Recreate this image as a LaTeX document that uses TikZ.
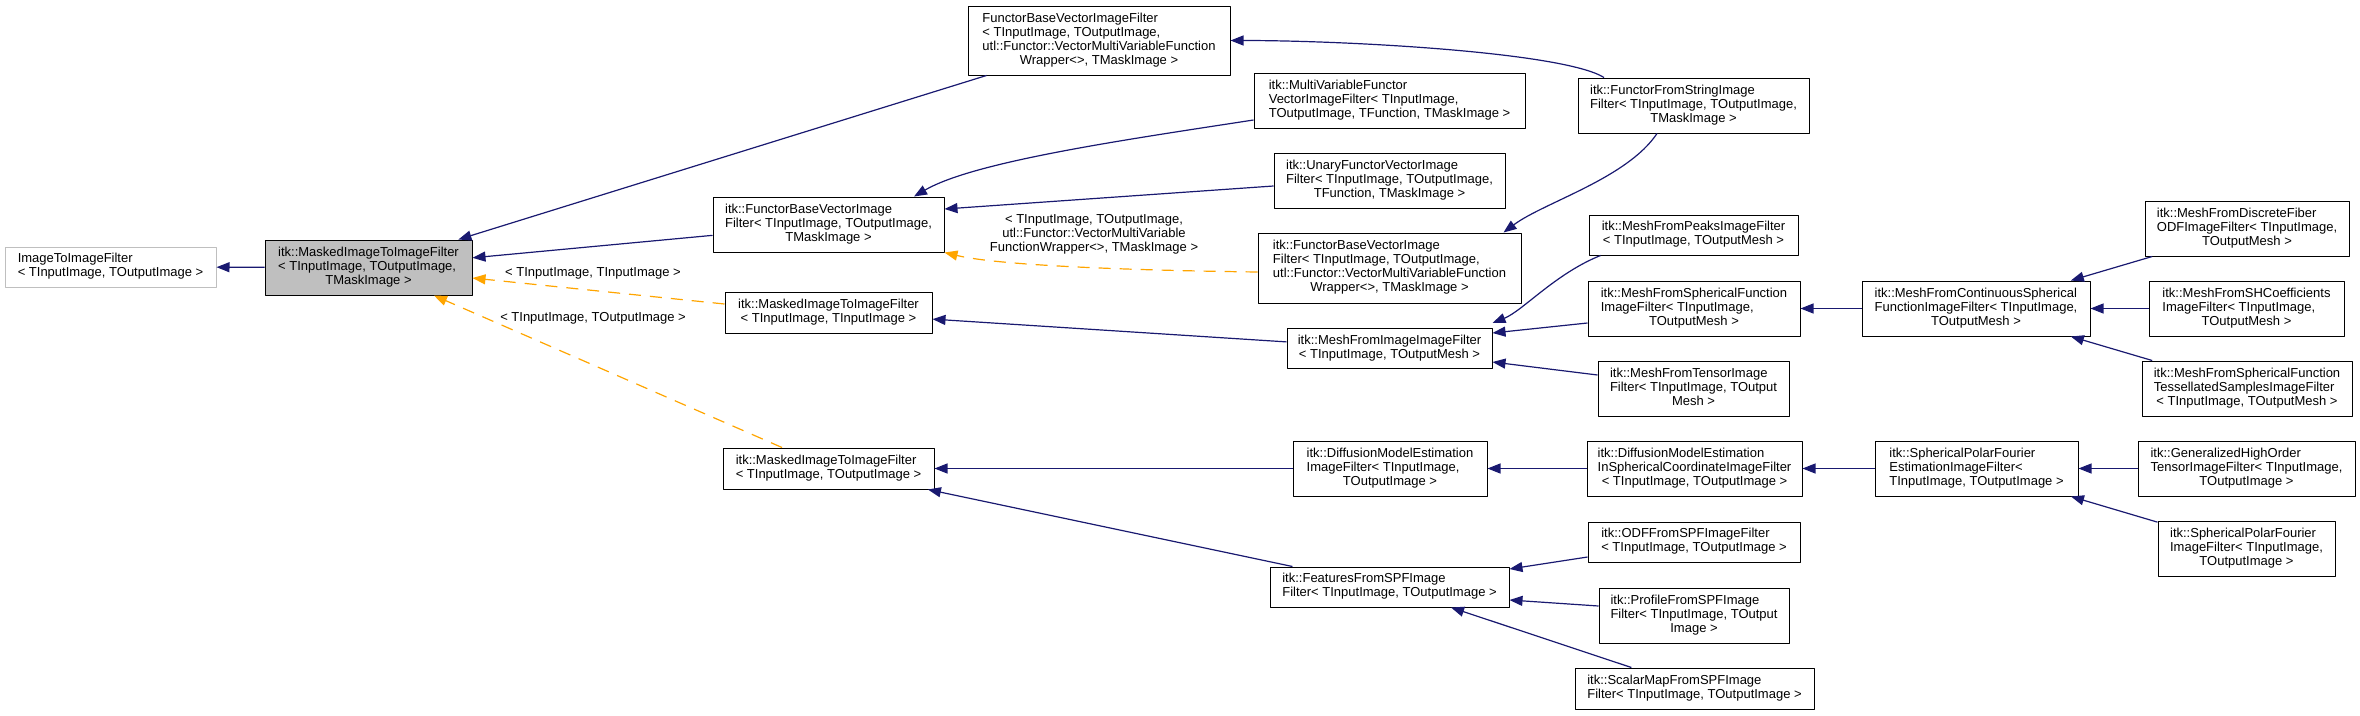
\documentclass[tikz,border=0pt]{standalone}
\usepackage{fontspec}
\setmainfont{Liberation Sans}
\usetikzlibrary{arrows.meta,calc}
\definecolor{edgeblue}{HTML}{191970}
\definecolor{tplorange}{HTML}{FFA500}
\definecolor{boxgray}{HTML}{BFBFBF}
% class label: left lines, last line centred
\newcommand{\cname}[2]{\begin{tabular}{@{}l@{}}#1\\\multicolumn{1}{@{}c@{}}{#2}\end{tabular}}
\begin{document}
\begin{tikzpicture}[x=1pt,y=-1pt,line join=round,font=\fontsize{13}{14}\selectfont,
  cls/.style={draw=black,line width=1pt,fill=white,inner sep=0pt},
  inh/.style={draw=edgeblue,line width=1.2pt,-{Triangle[length=13pt,width=10pt]}},
  tpl/.style={draw=tplorange,line width=1.2pt,dash pattern=on 12pt off 9pt,-{Triangle[length=13pt,width=10pt]}},
  elbl/.style={inner sep=0pt,align=center}]
\useasboundingbox (0,0) rectangle (2360,715);

% Left part
\node[cls,draw=boxgray,minimum width=211,minimum height=40] (img) at (110.5,267) {\cname{ImageToImageFilter}{< TInputImage, TOutputImage >}};
\node[cls,fill=boxgray,minimum width=207,minimum height=55] (mask) at (368.5,267.5) {\cname{itk::MaskedImageToImageFilter\\< TInputImage, TOutputImage,}{TMaskImage >}};

% Functor column
\node[cls,minimum width=262,minimum height=69] (fbvTop) at (1099,40.5) {\cname{FunctorBaseVectorImageFilter\\< TInputImage, TOutputImage,\\utl::Functor::VectorMultiVariableFunction}{Wrapper<>, TMaskImage >}};
\node[cls,minimum width=231,minimum height=55] (fbv) at (828.5,224.5) {\cname{itk::FunctorBaseVectorImage\\Filter< TInputImage, TOutputImage,}{TMaskImage >}};
\node[cls,minimum width=207,minimum height=41] (maskIn) at (828.5,312.5) {\cname{itk::MaskedImageToImageFilter}{< TInputImage, TInputImage >}};
\node[cls,minimum width=211,minimum height=41] (maskOut) at (828.5,468.5) {\cname{itk::MaskedImageToImageFilter}{< TInputImage, TOutputImage >}};

% Middle column
\node[cls,minimum width=271,minimum height=55] (mvf) at (1389.5,100.5) {\cname{itk::MultiVariableFunctor\\VectorImageFilter< TInputImage,}{TOutputImage, TFunction, TMaskImage >}};
\node[cls,minimum width=231,minimum height=55] (unary) at (1389.5,180.5) {\cname{itk::UnaryFunctorVectorImage\\Filter< TInputImage, TOutputImage,}{TFunction, TMaskImage >}};
\node[cls,minimum width=263,minimum height=70] (fbvLong) at (1389.5,268) {\cname{itk::FunctorBaseVectorImage\\Filter< TInputImage, TOutputImage,\\utl::Functor::VectorMultiVariableFunction}{Wrapper<>, TMaskImage >}};
\node[cls,minimum width=205,minimum height=40] (meshImg) at (1389.5,348.5) {\cname{itk::MeshFromImageImageFilter}{< TInputImage, TOutputMesh >}};
\node[cls,minimum width=194,minimum height=55] (diff) at (1390,468.5) {\cname{itk::DiffusionModelEstimation\\ImageFilter< TInputImage,}{TOutputImage >}};
\node[cls,minimum width=239,minimum height=40] (feat) at (1389.5,587) {\cname{itk::FeaturesFromSPFImage}{Filter< TInputImage, TOutputImage >}};

% Next column
\node[cls,minimum width=231,minimum height=55] (fromString) at (1693.5,105.5) {\cname{itk::FunctorFromStringImage\\Filter< TInputImage, TOutputImage,}{TMaskImage >}};
\node[cls,minimum width=209,minimum height=40] (peaks) at (1693.5,235) {\cname{itk::MeshFromPeaksImageFilter}{< TInputImage, TOutputMesh >}};
\node[cls,minimum width=212,minimum height=55] (sphFn) at (1694,308.5) {\cname{itk::MeshFromSphericalFunction\\ImageFilter< TInputImage,}{TOutputMesh >}};
\node[cls,minimum width=191,minimum height=55] (tensor) at (1693.5,388.5) {\cname{itk::MeshFromTensorImage\\Filter< TInputImage, TOutput}{Mesh >}};
\node[cls,minimum width=215,minimum height=55] (diffSph) at (1694.5,468.5) {\cname{itk::DiffusionModelEstimation\\InSphericalCoordinateImageFilter}{< TInputImage, TOutputImage >}};
\node[cls,minimum width=212,minimum height=40] (odf) at (1694,542) {\cname{itk::ODFFromSPFImageFilter}{< TInputImage, TOutputImage >}};
\node[cls,minimum width=190,minimum height=55] (profile) at (1694,615.5) {\cname{itk::ProfileFromSPFImage\\Filter< TInputImage, TOutput}{Image >}};
\node[cls,minimum width=239,minimum height=41] (scalar) at (1694.5,688.5) {\cname{itk::ScalarMapFromSPFImage}{Filter< TInputImage, TOutputImage >}};

% Right columns
\node[cls,minimum width=228,minimum height=55] (contSph) at (1976,308.5) {\cname{itk::MeshFromContinuousSpherical\\FunctionImageFilter< TInputImage,}{TOutputMesh >}};
\node[cls,minimum width=203,minimum height=55] (spfEst) at (1976.5,468.5) {\cname{itk::SphericalPolarFourier\\EstimationImageFilter<}{TInputImage, TOutputImage >}};
\node[cls,minimum width=204,minimum height=55] (discFib) at (2247,228.5) {\cname{itk::MeshFromDiscreteFiber\\ODFImageFilter< TInputImage,}{TOutputMesh >}};
\node[cls,minimum width=195,minimum height=55] (shCoef) at (2246.5,308.5) {\cname{itk::MeshFromSHCoefficients\\ImageFilter< TInputImage,}{TOutputMesh >}};
\node[cls,minimum width=210,minimum height=55] (tess) at (2247,388.5) {\cname{itk::MeshFromSphericalFunction\\TessellatedSamplesImageFilter}{< TInputImage, TOutputMesh >}};
\node[cls,minimum width=217,minimum height=55] (genHO) at (2246.5,468.5) {\cname{itk::GeneralizedHighOrder\\TensorImageFilter< TInputImage,}{TOutputImage >}};
\node[cls,minimum width=177,minimum height=55] (spfImg) at (2246.5,548.5) {\cname{itk::SphericalPolarFourier\\ImageFilter< TInputImage,}{TOutputImage >}};

% Template labels
\node[elbl] (lblInIn) at (593,273) {< TInputImage, TInputImage >};
\node[elbl] (lblInOut) at (593,318) {< TInputImage, TOutputImage >};
\node[elbl] (lblFunctor) at (1094,234) {< TInputImage, TOutputImage,\\utl::Functor::VectorMultiVariable\\FunctionWrapper<>, TMaskImage >};

% Inheritance
\draw[inh] (mask) -- (img);
\draw[inh] (fbvTop) -- (mask);
\draw[inh] (fbv) -- (mask);
\draw[inh] ($(mvf.west)+(0,19.5)$) .. controls +(-130,20) and +(60,-35) .. ($(fbv.north)+(85.5,0)$);
\draw[inh] ($(unary.west)+(0,5.5)$) -- ($(fbv.east)+(0,-15.5)$);
\draw[inh] ($(fromString.north)+(-89.5,0)$) .. controls +(-40,-25) and +(120,0) .. (fbvTop.east);
\draw[inh] ($(fromString.south)+(-36.5,0)$) .. controls +(-30,45) and +(40,-30) .. ($(fbvLong.north east)+(-18,0)$);
\draw[inh] (meshImg) -- (maskIn);
\draw[inh] ($(peaks.south west)+(12,0)$) .. controls +(-45,18) and +(30,-12) .. ($(meshImg.east)+(0,-25.5)$);
\draw[inh] ($(sphFn.west)+(0,14.5)$) -- ($(meshImg.east)+(0,-15.5)$);
\draw[inh] ($(tensor.west)+(0,-13.5)$) -- ($(meshImg.east)+(0,13.5)$);
\draw[inh] (contSph) -- (sphFn);
\draw[inh] (discFib) -- (contSph);
\draw[inh] (shCoef) -- (contSph);
\draw[inh] (tess) -- (contSph);
\draw[inh] (diff) -- (maskOut);
\draw[inh] (feat) -- (maskOut);
\draw[inh] (diffSph) -- (diff);
\draw[inh] (spfEst) -- (diffSph);
\draw[inh] (genHO) -- (spfEst);
\draw[inh] (spfImg) -- (spfEst);
\draw[inh] ($(odf.west)+(0,15)$) -- ($(feat.east)+(0,-18)$);
\draw[inh] ($(profile.west)+(0,-9.5)$) -- ($(feat.east)+(0,13)$);
\draw[inh] (scalar) -- (feat);

% Template instances
\draw[tpl] ($(maskIn.west)+(0,-8.5)$) -- ($(mask.east)+(0,10.5)$);
\draw[tpl] ($(maskOut.north)+(-46.5,0)$) -- ($(mask.south)+(65.5,0)$);
\draw[tpl] ($(fbvLong.west)+(0,4)$) .. controls +(-150,-2) and +(50,12) .. (fbv.south east);
\end{tikzpicture}
\end{document}
